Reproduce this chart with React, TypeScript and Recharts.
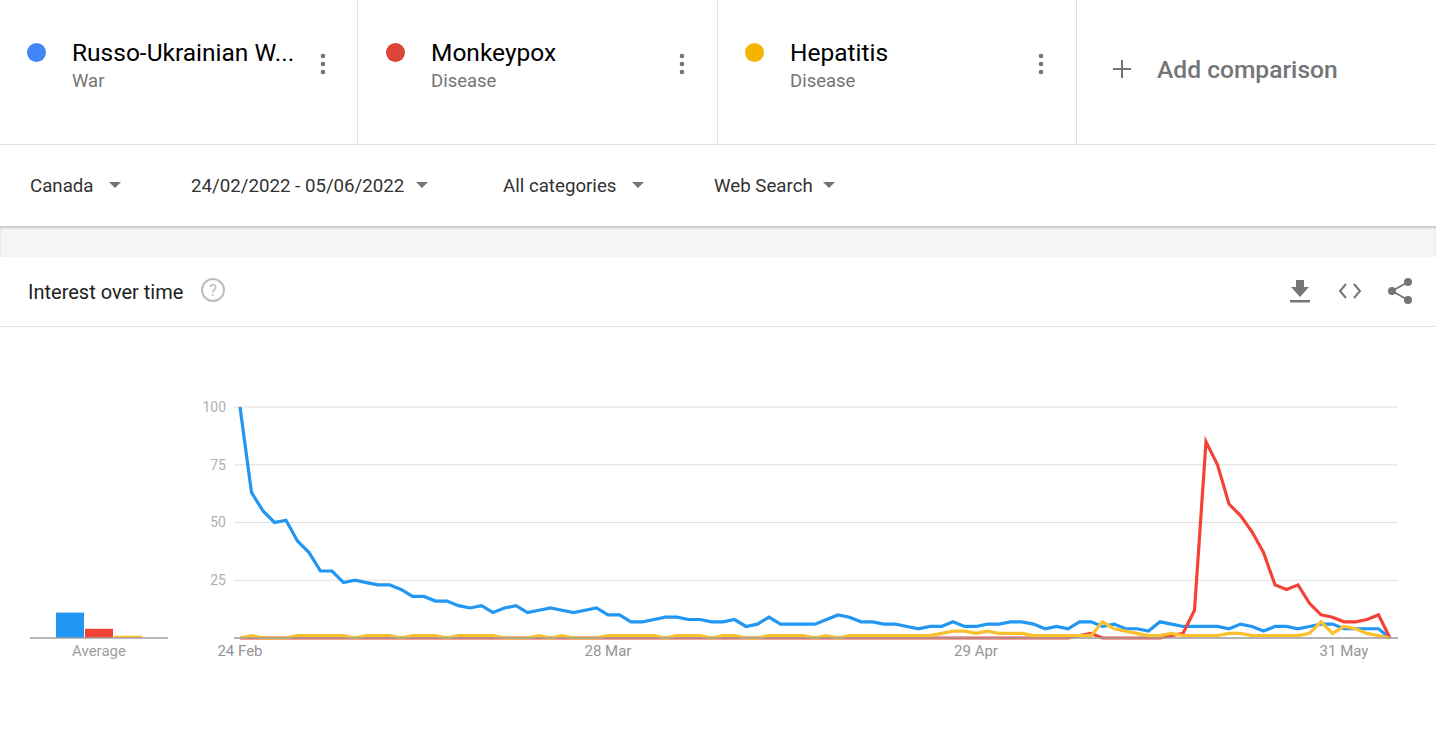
import React from 'react';
import { LineChart, Line, XAxis, YAxis, CartesianGrid, BarChart, Bar } from 'recharts';

// Daily interest, 24 Feb 2022 onwards (index 0 = 24 Feb)
const russoUkrainianWar = [
    100, 63, 55, 50, 51, 42, 37, 29, 29, 24,
    25, 24, 23, 23, 21, 18, 18, 16, 16, 14,
    13, 14, 11, 13, 14, 11, 12, 13, 12, 11,
    12, 13, 10, 10, 7, 7, 8, 9, 9, 8,
    8, 7, 7, 8, 5, 6, 9, 6, 6, 6,
    6, 8, 10, 9, 7, 7, 6, 6, 5, 4,
    5, 5, 7, 5, 5, 6, 6, 7, 7, 6,
    4, 5, 4, 7, 7, 5, 6, 4, 4, 3,
    7, 6, 5, 5, 5, 5, 4, 6, 5, 3,
    5, 5, 4, 5, 6, 6, 4, 4, 4, 4,
    0,
];
const monkeypox = [
    0, 0, 0, 0, 0, 0, 0, 0, 0, 0,
    0, 0, 0, 0, 0, 0, 0, 0, 0, 0,
    0, 0, 0, 0, 0, 0, 0, 0, 0, 0,
    0, 0, 0, 0, 0, 0, 0, 0, 0, 0,
    0, 0, 0, 0, 0, 0, 0, 0, 0, 0,
    0, 0, 0, 0, 0, 0, 0, 0, 0, 0,
    0, 0, 0, 0, 0, 0, 0, 0, 0, 0,
    0, 0, 0, 1, 2, 0, 0, 0, 0, 0,
    0, 1, 2, 12, 85, 75, 58, 53, 46, 37,
    23, 21, 23, 15, 10, 9, 7, 7, 8, 10,
    0,
];
const hepatitis = [
    0, 1, 0, 0, 0, 1, 1, 1, 1, 1,
    0, 1, 1, 1, 0, 1, 1, 1, 0, 1,
    1, 1, 1, 0, 0, 0, 1, 0, 1, 0,
    0, 0, 1, 1, 1, 1, 1, 0, 1, 1,
    1, 0, 1, 1, 0, 0, 1, 1, 1, 1,
    0, 1, 0, 1, 1, 1, 1, 1, 1, 1,
    1, 2, 3, 3, 2, 3, 2, 2, 2, 1,
    1, 1, 1, 1, 1, 7, 4, 3, 2, 1,
    1, 2, 1, 1, 1, 1, 2, 2, 1, 1,
    1, 1, 1, 2, 7, 2, 5, 4, 2, 1,
    0,
];
const tickDays = [0, 32, 64, 96];
const tickLabels = ['24 Feb', '28 Mar', '29 Apr', '31 May'];
const yTicks = [0, 25, 50, 75, 100];
const averageLabel = 'Average';
const averages = [11, 4, 1];

const terms = [
    { name: 'Russo-Ukrainian W...', type: 'War', dot: '#4285f4' },
    { name: 'Monkeypox', type: 'Disease', dot: '#db4437' },
    { name: 'Hepatitis', type: 'Disease', dot: '#f4b400' },
];
const filters = ['Canada', '24/02/2022 - 05/06/2022', 'All categories', 'Web Search'];

const BLUE = '#2196f3';
const RED = '#f44336';
const YELLOW = '#fbc02d';

const chartData = russoUkrainianWar.map((v, i) => ({
    day: i,
    war: v,
    monkeypox: monkeypox[i],
    hepatitis: hepatitis[i],
}));
const averageData = [{ name: averageLabel, war: averages[0], monkeypox: averages[1], hepatitis: averages[2] }];

const FONT = 'Roboto, Arial, sans-serif';

const Text = ({ x, y, size, color, weight = 400, children }: any) => (
    <div style={{
        position: 'absolute', left: x, top: y, transform: 'translateY(-50%)',
        fontSize: size, lineHeight: 1, color, fontWeight: weight, whiteSpace: 'nowrap',
    }}>{children}</div>
);

const Dots = ({ x }: { x: number }) => (
    <svg style={{ position: 'absolute', left: x - 4, top: 50 }} width={8} height={28}>
        {[6, 14, 22].map(cy => <circle key={cy} cx={4} cy={cy} r={2.3} fill="#757575" />)}
    </svg>
);

const Arrow = ({ x }: { x: number }) => (
    <div style={{
        position: 'absolute', left: x - 6, top: 182, width: 0, height: 0,
        borderLeft: '6px solid transparent', borderRight: '6px solid transparent', borderTop: '6px solid #757575',
    }} />
);

export default function App() {
    const termX = [0, 359, 718];
    const filterX = [30, 191, 503, 714];
    const arrowX = [115, 422, 638, 829];

    return (
        <div style={{ position: 'absolute', left: 0, top: 0, width: 1436, height: 739, background: '#fff', fontFamily: FONT, overflow: 'hidden' }}>
            {/* search terms */}
            {terms.map((t, i) => (
                <React.Fragment key={t.name}>
                    <div style={{ position: 'absolute', left: termX[i] + 27, top: 43, width: 19, height: 19, borderRadius: '50%', background: t.dot }} />
                    <Text x={termX[i] + 72} y={53} size={24.5} color="#000">{t.name}</Text>
                    <Text x={termX[i] + 72} y={81} size={18.5} color="#757575">{t.type}</Text>
                    <Dots x={termX[i] + 323} />
                </React.Fragment>
            ))}
            {[357, 717, 1076].map(x => (
                <div key={x} style={{ position: 'absolute', left: x, top: 0, width: 1, height: 144, background: '#e0e0e0' }} />
            ))}
            <svg style={{ position: 'absolute', left: 1112, top: 59 }} width={20} height={20}>
                <line x1={1} y1={10} x2={19} y2={10} stroke="#757575" strokeWidth={2} />
                <line x1={10} y1={1} x2={10} y2={19} stroke="#757575" strokeWidth={2} />
            </svg>
            <Text x={1157} y={70} size={24.6} color="#757575" weight={500}>Add comparison</Text>
            <div style={{ position: 'absolute', left: 0, top: 144, width: 1436, height: 1, background: '#e0e0e0' }} />

            {/* filters */}
            <div style={{ position: 'absolute', left: 0, top: 226, width: 1436, height: 31, background: '#f5f5f5', boxShadow: 'inset 0 2px 2px rgba(0,0,0,0.18)' }} />
            {filters.map((f, i) => (
                <React.Fragment key={f}>
                    <Text x={filterX[i]} y={186} size={18.7} color="#333">{f}</Text>
                    <Arrow x={arrowX[i]} />
                </React.Fragment>
            ))}

            {/* interest over time header */}
            <Text x={28} y={292} size={20} color="#212121">Interest over time</Text>
            <svg style={{ position: 'absolute', left: 200, top: 277 }} width={28} height={28}>
                <circle cx={13} cy={13} r={11} fill="none" stroke="#bdbdbd" strokeWidth={2} />
                <text x={13} y={19} textAnchor="middle" fontSize={17} fill="#bdbdbd" fontFamily={FONT}>?</text>
            </svg>
            <svg style={{ position: 'absolute', left: 1280, top: 270 }} width={140} height={40}>
                {/* download */}
                <rect x={16} y={10} width={8} height={8} fill="#757575" />
                <polygon points="11,17 29,17 20,27" fill="#757575" />
                <rect x={10} y={30} width={20} height={2.5} fill="#757575" />
                {/* embed */}
                <polyline points="66,14 60,21 66,28" fill="none" stroke="#757575" strokeWidth={2} />
                <polyline points="74,14 80,21 74,28" fill="none" stroke="#757575" strokeWidth={2} />
                {/* share */}
                <line x1={112} y1={21} x2={128} y2={12} stroke="#757575" strokeWidth={2} />
                <line x1={112} y1={21} x2={128} y2={30} stroke="#757575" strokeWidth={2} />
                <circle cx={112} cy={21} r={4} fill="#757575" />
                <circle cx={128} cy={12} r={4} fill="#757575" />
                <circle cx={128} cy={30} r={4} fill="#757575" />
            </svg>
            <div style={{ position: 'absolute', left: 0, top: 326, width: 1436, height: 1, background: '#e0e0e0' }} />

            {/* average bars */}
            <div style={{ position: 'absolute', left: 30, top: 380 }}>
                <BarChart width={138} height={300} data={averageData} margin={{ top: 27, right: 0, bottom: 12, left: 0 }} barSize={28} barGap={1}>
                    <XAxis dataKey="name" height={30} tickLine={false} tickSize={0} tickMargin={7}
                        axisLine={{ stroke: '#a0a0a0', strokeWidth: 1.5 }}
                        tick={{ fill: '#9e9e9e', fontSize: 15, fontFamily: FONT }} />
                    <YAxis hide domain={[0, 100]} />
                    <Bar dataKey="war" fill={BLUE} isAnimationActive={false} />
                    <Bar dataKey="monkeypox" fill={RED} isAnimationActive={false} />
                    <Bar dataKey="hepatitis" fill={YELLOW} isAnimationActive={false} />
                </BarChart>
            </div>

            {/* interest over time */}
            <div style={{ position: 'absolute', left: 0, top: 380 }}>
                <LineChart width={1436} height={300} data={chartData} margin={{ top: 27, right: 38, bottom: 12, left: 0 }}>
                    <CartesianGrid vertical={false} stroke="#e0e0e0" />
                    <XAxis
                        dataKey="day"
                        type="number"
                        domain={[0, 100]}
                        ticks={tickDays}
                        tickFormatter={(d) => tickLabels[tickDays.indexOf(d)]}
                        padding={{ left: 6, right: 8 }}
                        height={30}
                        tickLine={false}
                        tickSize={0}
                        tickMargin={7}
                        axisLine={{ stroke: '#a0a0a0', strokeWidth: 1.5 }}
                        tick={{ fill: '#959595', fontSize: 15, fontFamily: FONT }}
                    />
                    <YAxis
                        width={234}
                        domain={[0, 100]}
                        ticks={yTicks}
                        tickFormatter={(v) => (v === 0 ? '' : String(v))}
                        axisLine={false}
                        tickLine={false}
                        tickSize={0}
                        tickMargin={8}
                        tick={{ fill: '#b0b0b0', fontSize: 14, fontFamily: FONT }}
                    />
                    <Line type="linear" dataKey="war" stroke={BLUE} strokeWidth={3.2} dot={false} isAnimationActive={false} />
                    <Line type="linear" dataKey="monkeypox" stroke={RED} strokeWidth={3.2} dot={false} isAnimationActive={false} />
                    <Line type="linear" dataKey="hepatitis" stroke={YELLOW} strokeWidth={3.2} dot={false} isAnimationActive={false} />
                </LineChart>
            </div>
        </div>
    );
}
